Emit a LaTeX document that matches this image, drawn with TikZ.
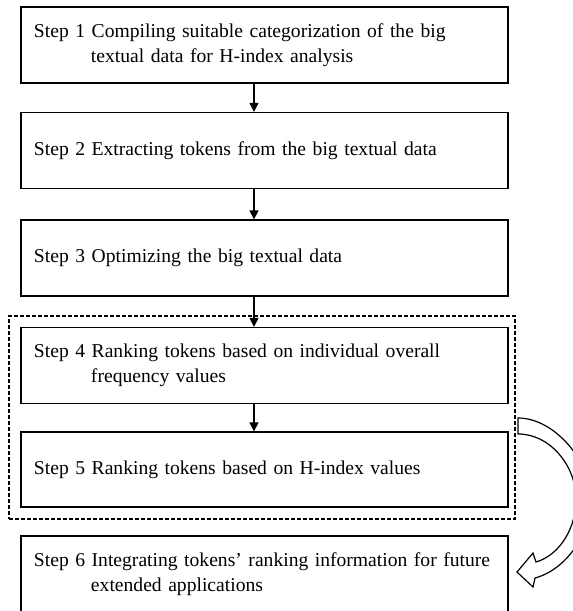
\documentclass[tikz,border=0pt]{standalone}
\usepackage{fontspec}
\setmainfont{Liberation Serif}
\usetikzlibrary{arrows.meta}
\begin{document}
\begin{tikzpicture}[x=1pt,y=-1pt,
  stepbox/.style={draw=black, line width=1.3pt, rectangle, minimum width=487pt,
    minimum height=76pt, text width=461pt, inner xsep=13pt, inner ysep=0pt,
    align=left, font=\fontsize{19.6}{24.5}\selectfont},
  groupbox/.style={draw=black, line width=1.1pt, dash pattern=on 4pt off 2pt,
    rectangle, minimum width=506pt, minimum height=203pt, inner sep=0pt},
  flow/.style={draw=black, line width=1.2pt, -{Triangle[length=9pt,width=9pt]}},
  blockarrow/.style={draw=black, line width=1.2pt, fill=white, line join=miter}]
\useasboundingbox (0,0) rectangle (573,611);
\fill[white] (0,0) rectangle (573,611);

\node[groupbox] (grp) at (262,417.5) {};

\node[stepbox] (b1) at (264.5,45) {Step 1 Compiling suitable categorization of the big\\\hspace*{57pt}textual data for H-index analysis};
\node[stepbox] (b2) at (264.5,150.5) {Step 2 Extracting tokens from the big textual data};
\node[stepbox] (b3) at (264.5,258) {Step 3 Optimizing the big textual data};
\node[stepbox] (b4) at (264.5,365.5) {Step 4 Ranking tokens based on individual overall\\\hspace*{57pt}frequency values};
\node[stepbox, minimum height=75pt] (b5) at (264.5,469.5) {Step 5 Ranking tokens based on H-index values};
\node[stepbox] (b6) at (264.5,574) {Step 6 Integrating tokens' ranking information for future\\\hspace*{57pt}extended applications};

\coordinate (ax) at (254,0);
\draw[flow] (b1.south -| ax) -- (b2.north -| ax);
\draw[flow] (b2.south -| ax) -- (b3.north -| ax);
\draw[flow] (b3.south -| ax) -- (b4.north -| ax);
\draw[flow] (b4.south -| ax) -- (b5.north -| ax);

% curved block arrow from the group to step 6
\path[blockarrow] (518,418) .. controls (555,418) and (590,462) .. (590,495)
  .. controls (592,535) and (565,570) .. (535,578)
  -- (533,587) -- (517,572) -- (533,553) -- (536,562)
  .. controls (560,555) and (577,527) .. (576,497)
  .. controls (575,465) and (550,434) .. (518,434) -- cycle;
\end{tikzpicture}
\end{document}
